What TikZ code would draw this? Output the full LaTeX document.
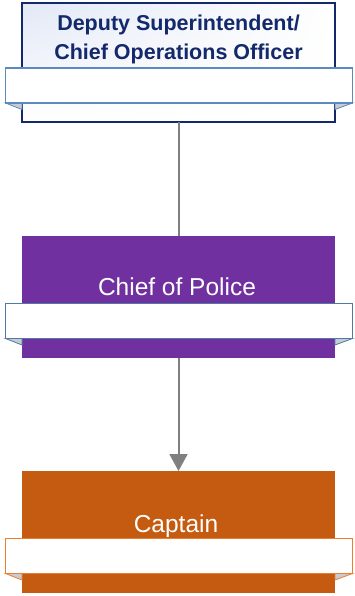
\documentclass[tikz,border=0pt]{standalone}
\usepackage{fontspec}
\setmainfont{Liberation Sans}
\usetikzlibrary{arrows.meta,shadings}
\definecolor{navy}{HTML}{13296B}
\definecolor{tint}{HTML}{E2E8F6}
\definecolor{bannerblue}{HTML}{5A8AC0}
\definecolor{bannersteel}{HTML}{4E7BA6}
\definecolor{purp}{HTML}{7030A0}
\definecolor{orng}{HTML}{C55A11}
\definecolor{orngline}{HTML}{ED7D31}
\definecolor{conn}{HTML}{808080}
\definecolor{foldgray}{HTML}{C8CCD2}
\tikzset{
  x=1pt, y=-1pt,
  box/.style={rectangle, minimum width=313pt, inner sep=0pt, outer sep=0pt},
  banner/.style={rectangle, draw, line width=1.4pt, fill=white, minimum width=347pt, minimum height=35pt, inner sep=0pt},
  fold/.style={fill=foldgray, draw, line width=0.8pt},
  connector/.style={conn, line width=2pt},
}
\begin{document}
\begin{tikzpicture}
\useasboundingbox (0,0) rectangle (354,596);
% Box 1
\node[box, minimum height=119pt, draw=navy, line width=1.6pt, upper left=tint, upper right=white, lower left=white, lower right=white] (b1) at (178.5,62.5) {};
\node[font=\fontsize{21.5}{29}\selectfont\bfseries, text=navy, align=center, anchor=base] (t1) at (178.5,60) {Deputy Superintendent/\\Chief Operations Officer};
% Box 2
\node[box, minimum height=122pt, fill=purp] (b2) at (178.5,297) {};
\node[font=\fontsize{24.5}{29}\selectfont, text=white, anchor=base] (t2) at (177,295) {Chief of Police};
% Box 3
\node[box, minimum height=122pt, fill=orng] (b3) at (178.5,532) {};
\node[font=\fontsize{24.5}{29}\selectfont, text=white, anchor=base] (t3) at (176,532) {Captain};
% connectors
\draw[connector] (b1.south) -- (b2.north);
\draw[connector, -{Triangle[length=17pt,width=18pt]}] (b2.south) -- (b3.north);
% folds + banners
\foreach \b/\yc/\col in {1/85.5/bannerblue, 2/321/bannersteel, 3/556/orngline}{
  \draw[fold, draw=\col] (5.5,\yc+17.5) -- (22,\yc+17.5) -- (22,\yc+24) -- cycle;
  \draw[fold, draw=\col] (352.5,\yc+17.5) -- (335,\yc+17.5) -- (335,\yc+24) -- cycle;
  \node[banner, draw=\col] (ban\b) at (179,\yc) {};
}
\end{tikzpicture}
\end{document}
